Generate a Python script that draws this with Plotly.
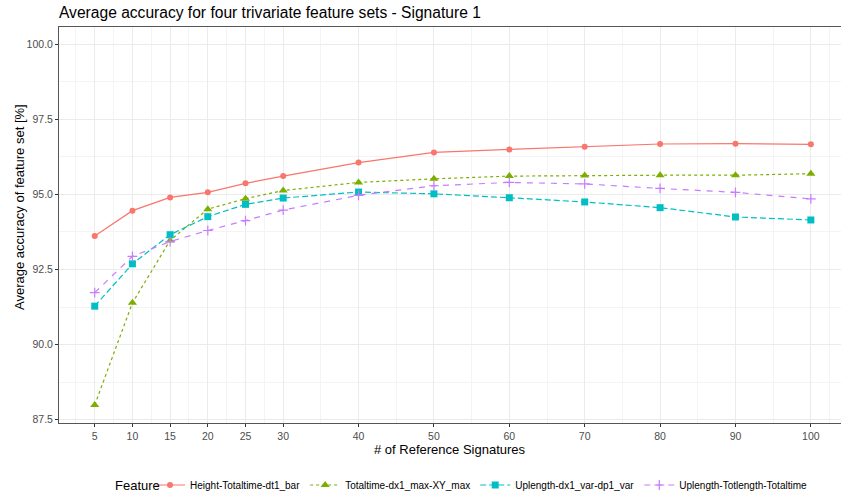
import plotly.graph_objects as go

n_refs = [5, 10, 15, 20, 25, 30, 40, 50, 60, 70, 80, 90, 100]
series_names = ["Height-Totaltime-dt1_bar", "Totaltime-dx1_max-XY_max",
                "Uplength-dx1_var-dp1_var", "Uplength-Totlength-Totaltime"]
height_totaltime = [93.62, 94.46, 94.90, 95.07, 95.37, 95.61, 96.06, 96.40, 96.50, 96.59, 96.68, 96.69, 96.67]
totaltime_dx1 = [87.99, 91.39, 93.47, 94.51, 94.86, 95.13, 95.40, 95.52, 95.61, 95.63, 95.64, 95.64, 95.69]
uplength_dx1 = [91.28, 92.69, 93.66, 94.26, 94.67, 94.88, 95.08, 95.02, 94.89, 94.75, 94.56, 94.25, 94.15]
uplength_totlength = [91.73, 92.94, 93.43, 93.80, 94.13, 94.48, 94.97, 95.29, 95.40, 95.35, 95.20, 95.07, 94.85]
y_ticks = [87.5, 90.0, 92.5, 95.0, 97.5, 100.0]

values = [height_totaltime, totaltime_dx1, uplength_dx1, uplength_totlength]
colors = ["#F8766D", "#7CAE00", "#00BFC4", "#C77CFF"]
dashes = ["solid", "3px,3px", "6px,3px", "6px,6px"]
symbols = ["circle", "triangle-up", "square", "cross-thin"]
sizes = [6, 8, 7, 7]

FONT = "Arial, 'Liberation Sans', sans-serif"
fig = go.Figure()
for name, vals, c, d, s, sz in zip(series_names, values, colors, dashes, symbols, sizes):
    fig.add_trace(go.Scatter(
        x=n_refs, y=vals, name=name, mode="lines+markers",
        line=dict(color=c, dash=d, width=1.2),
        marker=dict(symbol=s, size=sz, color=c, line=dict(color=c, width=1.2 if s == "cross-thin" else 0)),
    ))

x_minor = [2.5, 7.5, 12.5, 17.5, 22.5, 27.5, 35, 45, 55, 65, 75, 85, 95, 102.5]
y_minor = [88.75, 91.25, 93.75, 96.25, 98.75]

fig.update_layout(
    width=841, height=497,
    margin=dict(l=59, r=0, t=27, b=74, autoexpand=False),
    plot_bgcolor="white", paper_bgcolor="white",
    font=dict(family=FONT, color="black"),
    title=dict(text="Average accuracy for four trivariate feature sets - Signature 1",
               x=59/841, xanchor="left", xref="container", y=1-13/497, yanchor="middle",
               yref="container", font=dict(size=15.6, color="black")),
    xaxis=dict(range=[0.26, 104.0], tickmode="array", tickvals=n_refs,
               ticktext=[str(v) for v in n_refs],
               showgrid=True, gridcolor="#EBEBEB", gridwidth=1.1,
               minor=dict(tickmode="array", tickvals=x_minor, showgrid=True, gridcolor="#F4F4F4", gridwidth=0.6, ticks=""),
               showline=True, linecolor="#555555", linewidth=1, mirror=True,
               ticks="outside", ticklen=3, tickcolor="#333333", tickwidth=1,
               tickfont=dict(size=10.5, color="#4D4D4D"), zeroline=False, automargin=False),
    yaxis=dict(range=[87.39, 100.575], tickmode="array", tickvals=y_ticks,
               ticktext=["%.1f" % v for v in y_ticks],
               showgrid=True, gridcolor="#EBEBEB", gridwidth=1.1,
               minor=dict(tickmode="array", tickvals=y_minor, showgrid=True, gridcolor="#F4F4F4", gridwidth=0.6, ticks=""),
               showline=True, linecolor="#555555", linewidth=1, mirror=False,
               ticks="outside", ticklen=3, tickcolor="#333333", tickwidth=1,
               tickfont=dict(size=10.5, color="#4D4D4D"), zeroline=False, automargin=False),
    legend=dict(orientation="h", x=150/841, xref="container", xanchor="left",
                y=1-485/497, yref="container", yanchor="middle",
                font=dict(size=10, color="black"), itemwidth=30, tracegroupgap=0),
    showlegend=True,
)
fig.add_annotation(text="Feature", xref="paper", yref="paper",
                   x=(113-59)/782, y=-(485-423)/396, xanchor="left", yanchor="middle",
                   showarrow=False, font=dict(size=13, color="black"))
fig.add_annotation(text="# of Reference Signatures", xref="paper", yref="paper",
                   x=(450-59)/782, y=-(449-423)/396, xanchor="center", yanchor="middle",
                   showarrow=False, font=dict(size=13, color="black"))
fig.add_annotation(text="Average accuracy of feature set [%]", xref="paper", yref="paper",
                   x=-(59-19)/782, y=(423-207)/396, xanchor="center", yanchor="middle", textangle=-90,
                   showarrow=False, font=dict(size=13, color="black"))

fig.write_html("out.html")
